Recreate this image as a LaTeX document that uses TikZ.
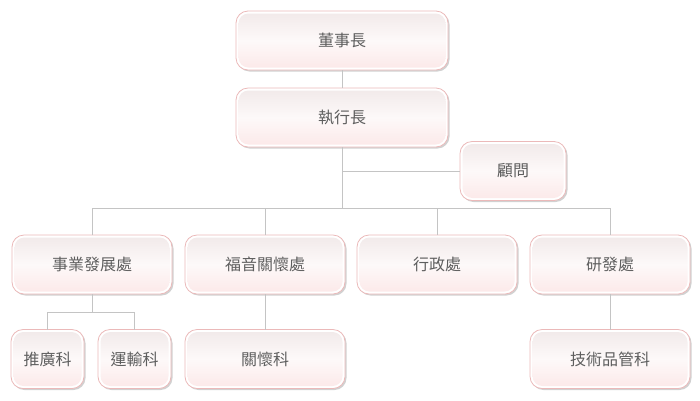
\documentclass[tikz,border=0pt]{standalone}
\usepackage{fontspec}
\newfontfamily\cjk{Noto Sans CJK TC}
\usetikzlibrary{shadows}
\definecolor{bord}{HTML}{EBB9B9}
\definecolor{linec}{HTML}{C4C4C4}
\definecolor{txt}{HTML}{5E5E5E}
\definecolor{topc}{HTML}{F1E9E9}
\definecolor{midc}{HTML}{FDF9F9}
\definecolor{botc}{HTML}{FCE8E8}
\tikzset{
  orgbox/.style={draw=bord, line width=0.8pt, fill=white, rounded corners=12pt,
    inner sep=0pt, outer sep=0pt, text=txt, font=\cjk\fontsize{16}{18}\selectfont,
    drop shadow={shadow xshift=1.5pt, shadow yshift=-1.5pt, opacity=0.18, fill=black},
    path picture={\shade[top color=topc, bottom color=botc, middle color=midc, rounded corners=10pt]
      ([shift={(2.5pt,-2.5pt)}]path picture bounding box.north west) rectangle
      ([shift={(-2.5pt,2.5pt)}]path picture bounding box.south east);}},
  conn/.style={draw=linec, line width=0.8pt}
}
\begin{document}
\begin{tikzpicture}[x=1pt,y=-1pt]
\useasboundingbox (0,0) rectangle (700,400);
\node[orgbox, minimum width=212pt, minimum height=59pt] (dsz) at (342,40.5) {董事長};
\node[orgbox, minimum width=212pt, minimum height=59pt] (zxz) at (342,117.5) {執行長};
\node[orgbox, minimum width=106pt, minimum height=59pt] (gw) at (513,171) {顧問};
\node[orgbox, minimum width=160pt, minimum height=59pt] (n1) at (92,264.5) {事業發展處};
\node[orgbox, minimum width=160pt, minimum height=59pt] (n2) at (265,264.5) {福音關懷處};
\node[orgbox, minimum width=160pt, minimum height=59pt] (n3) at (437,264.5) {行政處};
\node[orgbox, minimum width=160pt, minimum height=59pt] (n4) at (610,264.5) {研發處};
\node[orgbox, minimum width=73pt, minimum height=59pt] (t1) at (47.5,359) {推廣科};
\node[orgbox, minimum width=73pt, minimum height=59pt] (t2) at (134.5,359) {運輸科};
\node[orgbox, minimum width=160pt, minimum height=59pt] (t3) at (265,359) {關懷科};
\node[orgbox, minimum width=160pt, minimum height=59pt] (t4) at (610,359) {技術品管科};
\coordinate (bus) at (0,208);
\coordinate (sb) at (0,312);
\draw[conn] (dsz.south) -- (zxz.north);
\draw[conn] (zxz.south) -- (zxz.south |- bus);
\draw[conn] (zxz.south |- gw.west) -- (gw.west);
\draw[conn] (n1.north) -- (n1.north |- bus) -- (n4.north |- bus) -- (n4.north);
\draw[conn] (n2.north) -- (n2.north |- bus);
\draw[conn] (n3.north) -- (n3.north |- bus);
\draw[conn] (n1.south) -- (n1.south |- sb);
\draw[conn] (t1.north) -- (t1.north |- sb) -- (t2.north |- sb) -- (t2.north);
\draw[conn] (n2.south) -- (t3.north);
\draw[conn] (n4.south) -- (t4.north);
\end{tikzpicture}
\end{document}
